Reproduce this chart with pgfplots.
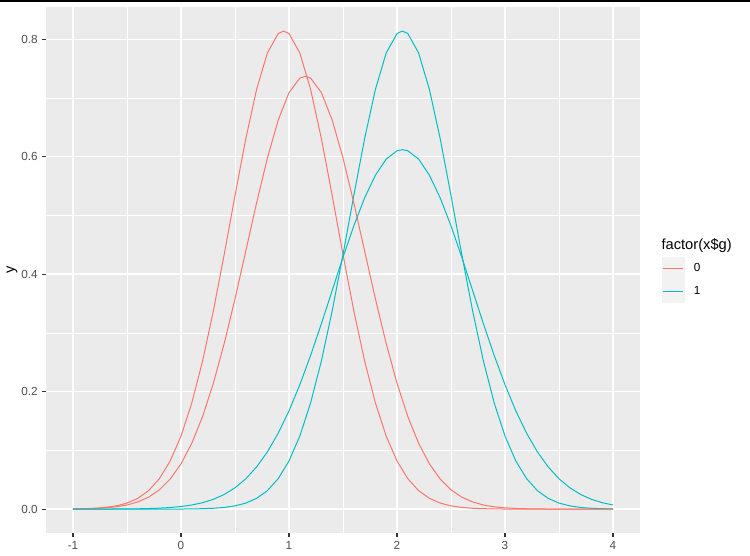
\documentclass[border=0pt]{standalone}
\usepackage{fontspec}
\setmainfont{Liberation Sans}
\usepackage{pgfplots}
\pgfplotsset{compat=1.18}
\definecolor{ggred}{HTML}{F8766D}
\definecolor{ggcyan}{HTML}{00BFC4}
\definecolor{ggpanel}{HTML}{EBEBEB}
\definecolor{ggkey}{HTML}{F2F2F2}
\definecolor{ggtick}{HTML}{333333}
\definecolor{ggtext}{HTML}{4D4D4D}

\begin{document}
\begin{tikzpicture}
\useasboundingbox (0,0) rectangle (562.5pt,417pt);
\fill[black] (0,415.6pt) rectangle (562.5pt,417pt);
\begin{axis}[
  at={(34.5pt,17.25pt)},anchor=south west,
  scale only axis,width=445.5pt,height=394.5pt,
  xmin=-1.25,xmax=4.25,ymin=-0.0407,ymax=0.855,
  xtick={-1,0,1,2,3,4},xticklabels={-1,0,1,2,3,4},
  ytick={0,0.2,0.4,0.6,0.8},yticklabels={0.0,0.2,0.4,0.6,0.8},
  minor tick num=1,grid=both,
  major grid style={draw=white,line width=1.1pt},
  minor grid style={draw=white,line width=0.55pt},
  axis background/.style={fill=ggpanel},
  axis line style={draw=none},
  tick pos=left,tick align=outside,
  major tick length=2.75pt,minor tick length=0pt,
  tick style={draw=ggtick,line width=0.8pt},
  tick label style={font=\fontsize{8.8}{10}\selectfont,text=ggtext},
  ylabel={y},ylabel style={font=\fontsize{11}{13}\selectfont,at={(axis description cs:-0.0572,0.5)},anchor=center},
  legend style={at={(axis description cs:1.037,0.5247)},anchor=north west,draw=none,fill=none,
    inner sep=0pt,outer sep=0pt,row sep=0pt,column sep=6.75pt,nodes={inner sep=0pt},
    font=\fontsize{8.8}{10}\selectfont},
  legend cell align=left,
  legend image code/.code={\fill[ggkey] (0pt,-8.25pt) rectangle (16.5pt,8.25pt);
    \draw[#1,line width=0.9pt] (0.75pt,0pt) -- (15.75pt,0pt);},
  every axis plot/.append style={line width=0.75pt,line join=round},
]
% group 0, first curve
\addplot[draw=ggred,forget plot] coordinates {(-1.0,0.0003) (-0.9,0.0007) (-0.8,0.0014) (-0.7,0.0028) (-0.6,0.0055) (-0.5,0.0102) (-0.4,0.0183) (-0.3,0.0314) (-0.2,0.0518) (-0.1,0.0820) (0.0,0.1243) (0.1,0.1808) (0.2,0.2523) (0.3,0.3377) (0.4,0.4335) (0.5,0.5339) (0.6,0.6307) (0.7,0.7147) (0.8,0.7767) (0.9,0.8098) (0.95,0.8140) (1.0,0.8098) (1.1,0.7767) (1.2,0.7147) (1.3,0.6307) (1.4,0.5339) (1.5,0.4335) (1.6,0.3377) (1.7,0.2523) (1.8,0.1808) (1.9,0.1243) (2.0,0.0820) (2.1,0.0518) (2.2,0.0314) (2.3,0.0183) (2.4,0.0102) (2.5,0.0055) (2.6,0.0028) (2.7,0.0014) (2.8,0.0007) (2.9,0.0003) (3.0,0.0001) (3.5,0) (4.0,0)};
% group 1, first curve
\addplot[draw=ggcyan,forget plot] coordinates {(-1.0,0) (-0.5,0) (0.0,0.0001) (0.1,0.0003) (0.2,0.0007) (0.3,0.0014) (0.4,0.0028) (0.5,0.0055) (0.6,0.0102) (0.7,0.0183) (0.8,0.0314) (0.9,0.0518) (1.0,0.0820) (1.1,0.1243) (1.2,0.1808) (1.3,0.2523) (1.4,0.3377) (1.5,0.4335) (1.6,0.5339) (1.7,0.6307) (1.8,0.7147) (1.9,0.7767) (2.0,0.8098) (2.05,0.8140) (2.1,0.8098) (2.2,0.7767) (2.3,0.7147) (2.4,0.6307) (2.5,0.5339) (2.6,0.4335) (2.7,0.3377) (2.8,0.2523) (2.9,0.1808) (3.0,0.1243) (3.1,0.0820) (3.2,0.0518) (3.3,0.0314) (3.4,0.0183) (3.5,0.0102) (3.6,0.0055) (3.7,0.0028) (3.8,0.0014) (3.9,0.0007) (4.0,0.0003)};
% group 0, second curve
\addplot[draw=ggred,forget plot] coordinates {(-1.0,0.0003) (-0.9,0.0006) (-0.8,0.0011) (-0.7,0.0021) (-0.6,0.0039) (-0.5,0.0070) (-0.4,0.0122) (-0.3,0.0203) (-0.2,0.0328) (-0.1,0.0511) (0.0,0.0770) (0.1,0.1121) (0.2,0.1577) (0.3,0.2145) (0.4,0.2819) (0.5,0.3581) (0.6,0.4396) (0.7,0.5215) (0.8,0.5978) (0.9,0.6624) (1.0,0.7092) (1.1,0.7339) (1.15,0.7370) (1.2,0.7339) (1.3,0.7092) (1.4,0.6624) (1.5,0.5978) (1.6,0.5215) (1.7,0.4396) (1.8,0.3581) (1.9,0.2819) (2.0,0.2145) (2.1,0.1577) (2.2,0.1121) (2.3,0.0770) (2.4,0.0511) (2.5,0.0328) (2.6,0.0203) (2.7,0.0122) (2.8,0.0070) (2.9,0.0039) (3.0,0.0021) (3.1,0.0011) (3.2,0.0006) (3.3,0.0003) (3.4,0.0001) (3.7,0) (4.0,0)};
% group 1, second curve
\addplot[draw=ggcyan,forget plot] coordinates {(-1.0,0) (-0.8,0) (-0.7,0.0001) (-0.6,0.0002) (-0.5,0.0003) (-0.4,0.0005) (-0.3,0.0009) (-0.2,0.0016) (-0.1,0.0027) (0.0,0.0044) (0.1,0.0070) (0.2,0.0109) (0.3,0.0167) (0.4,0.0249) (0.5,0.0363) (0.6,0.0516) (0.7,0.0718) (0.8,0.0974) (0.9,0.1292) (1.0,0.1673) (1.1,0.2117) (1.2,0.2616) (1.3,0.3158) (1.4,0.3723) (1.5,0.4288) (1.6,0.4823) (1.7,0.5299) (1.8,0.5686) (1.9,0.5960) (2.0,0.6102) (2.05,0.6120) (2.1,0.6102) (2.2,0.5960) (2.3,0.5686) (2.4,0.5299) (2.5,0.4823) (2.6,0.4288) (2.7,0.3723) (2.8,0.3158) (2.9,0.2616) (3.0,0.2117) (3.1,0.1673) (3.2,0.1292) (3.3,0.0974) (3.4,0.0718) (3.5,0.0516) (3.6,0.0363) (3.7,0.0249) (3.8,0.0167) (3.9,0.0109) (4.0,0.0070)};
\addlegendimage{draw=ggred,line width=0.75pt}
\addlegendentry{0}
\addlegendimage{draw=ggcyan,line width=0.75pt}
\addlegendentry{1}
\end{axis}
\node[anchor=base west,font=\fontsize{11}{13}\selectfont,inner sep=0pt] at (496pt,229.5pt) {factor(x\$g)};
\end{tikzpicture}
\end{document}
